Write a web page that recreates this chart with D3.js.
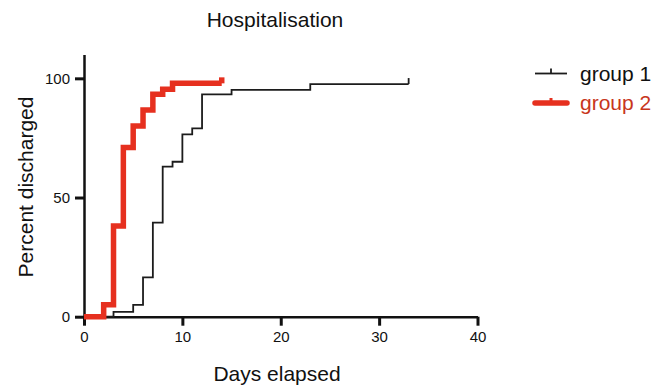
<!DOCTYPE html>
<html>
<head>
<meta charset="utf-8">
<script src="https://cdn.jsdelivr.net/npm/d3@7"></script>
<style>
  body { margin: 0; background: #fff; }
  svg { font-family: "Liberation Sans", Arial, Helvetica, sans-serif; }
</style>
</head>
<body>
<svg width="665" height="386"></svg>
<script>
// survival-style steps: day of event and cumulative percent discharged
var group1Days = [0, 3, 5, 6, 7, 8, 9, 10, 11, 12, 15, 23, 33];
var group1Pct  = [0, 2, 5, 16.5, 39.5, 63, 65, 76.5, 79, 93.3, 95.2, 97.6, 97.6];
var group2Days = [0, 2, 3, 4, 5, 6, 7, 8, 9, 14];
var group2Pct  = [0, 5, 38, 71, 80, 86.7, 93.3, 95.4, 97.9, 97.9];

var seriesNames = ["group 1", "group 2"];
var xTicks = [0, 10, 20, 30, 40];
var yTicks = [0, 50, 100];

var svg = d3.select("svg");

var x = d3.scaleLinear().domain([0, 40]).range([84, 477.5]);
var y = d3.scaleLinear().domain([0, 110]).range([316.7, 54.5]);

var colors = ["#1c1c1c", "#e6301f"];
var widths = [1.8, 5.5];

function pts(days, pct) {
    return days.map(function(d, i) { return [d, pct[i]]; });
}
var series = [pts(group1Days, group1Pct), pts(group2Days, group2Pct)];

var line = d3.line()
    .x(function(d) { return x(d[0]); })
    .y(function(d) { return y(d[1]); })
    .curve(d3.curveStepAfter);

// axes
var xAxis = svg.append("g")
    .attr("transform", "translate(0," + y(0) + ")")
    .call(d3.axisBottom(x).tickValues(xTicks).tickSize(9).tickPadding(6).tickSizeOuter(0));
var yAxis = svg.append("g")
    .attr("transform", "translate(" + x(0) + ",0)")
    .call(d3.axisLeft(y).tickValues(yTicks).tickSize(9).tickPadding(5).tickSizeOuter(0));

[xAxis, yAxis].forEach(function(a) {
    a.select(".domain").attr("stroke", "#111").attr("stroke-width", 2.5);
    a.selectAll(".tick line").attr("stroke", "#111").attr("stroke-width", 3);
    a.selectAll(".tick text")
        .attr("fill", "#111")
        .style("font-size", "15px")
        .style("font-family", "'Liberation Sans', Arial, sans-serif");
});

// step lines
series.forEach(function(s, i) {
    svg.append("path")
        .datum(s)
        .attr("fill", "none")
        .attr("stroke", colors[i])
        .attr("stroke-width", widths[i])
        .attr("stroke-linejoin", "miter")
        .attr("d", line);
    // censor mark at last point
    var last = s[s.length - 1];
    svg.append("line")
        .attr("x1", x(last[0])).attr("x2", x(last[0]))
        .attr("y1", y(last[1])).attr("y2", y(last[1]) - 6)
        .attr("stroke", colors[i])
        .attr("stroke-width", widths[i]);
});

// title and axis labels
svg.append("text")
    .attr("x", 275).attr("y", 27)
    .attr("text-anchor", "middle")
    .style("font-size", "21px")
    .attr("fill", "#111")
    .text("Hospitalisation");

svg.append("text")
    .attr("x", 277).attr("y", 381)
    .attr("text-anchor", "middle")
    .style("font-size", "21px")
    .attr("fill", "#111")
    .text("Days elapsed");

svg.append("text")
    .attr("transform", "translate(33,187) rotate(-90)")
    .attr("text-anchor", "middle")
    .style("font-size", "21px")
    .attr("fill", "#111")
    .text("Percent discharged");

// legend
var textColors = ["#111", "#c8361c"];
var legend = svg.selectAll("g.legend")
    .data(seriesNames)
    .enter().append("g")
    .attr("class", "legend")
    .attr("transform", function(d, i) { return "translate(535," + (73.5 + i * 29.5) + ")"; });

legend.append("line")
    .attr("x1", 0).attr("x2", 32)
    .attr("stroke", function(d, i) { return colors[i]; })
    .attr("stroke-width", function(d, i) { return i ? 5.5 : 1.8; })
    .attr("stroke-linecap", function(d, i) { return i ? "round" : "butt"; });
legend.append("line")
    .attr("x1", 16).attr("x2", 16).attr("y1", 0).attr("y2", -5)
    .attr("stroke", function(d, i) { return colors[i]; })
    .attr("stroke-width", function(d, i) { return i ? 3 : 1.8; });
legend.append("text")
    .attr("x", 45).attr("y", 7)
    .style("font-size", "21px")
    .attr("fill", function(d, i) { return textColors[i]; })
    .text(function(d) { return d; });
</script>
</body>
</html>
